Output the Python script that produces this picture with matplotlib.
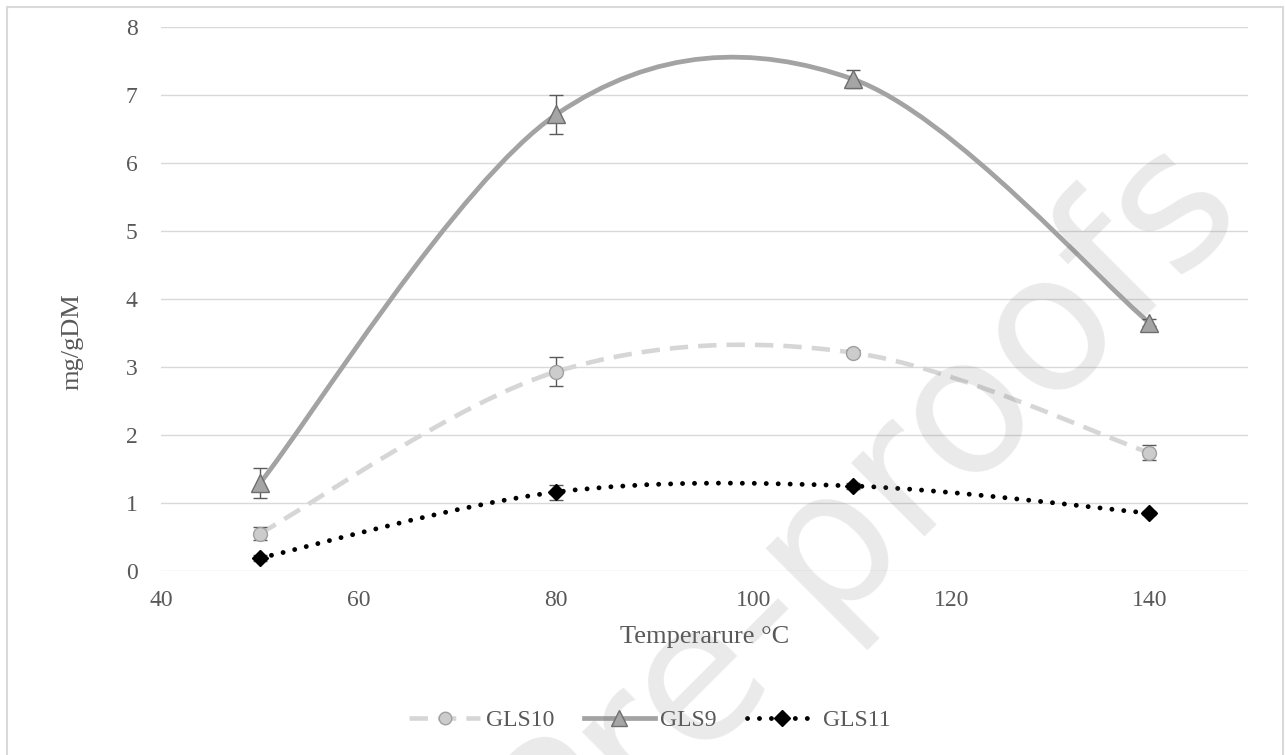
import matplotlib
matplotlib.use("Agg")
import matplotlib.pyplot as plt
from matplotlib.path import Path
from matplotlib.patches import PathPatch, Rectangle
from matplotlib.lines import Line2D
import numpy as np

# ---- data ----
temperature = [50, 80, 110, 140]
gls10 = [0.55, 2.93, 3.21, 1.74]
gls10_err = [0.10, 0.21, 0.04, 0.11]
gls9 = [1.29, 6.71, 7.23, 3.65]
gls9_err = [0.22, 0.28, 0.13, 0.05]
gls11 = [0.19, 1.16, 1.25, 0.85]
gls11_err = [0.04, 0.11, 0.05, 0.03]
series_names = ["GLS10", "GLS9", "GLS11"]
x_ticks = [40, 60, 80, 100, 120, 140]
y_ticks = [0, 1, 2, 3, 4, 5, 6, 7, 8]

plt.rcParams['font.family'] = ['Liberation Serif', 'DejaVu Serif']

W, H = 1285, 755
fig = plt.figure(figsize=(W / 100, H / 100), dpi=100)
ax = fig.add_axes([161 / W, 1 - 571 / H, (1248 - 161) / W, (571 - 26.7) / H])


def smooth_path(xs, ys):
    """Excel-style smoothed line: cubic Bezier segments through the data points."""
    pts = np.column_stack([xs, ys]).astype(float)
    n = len(pts)
    verts = [pts[0]]
    codes = [Path.MOVETO]
    for i in range(n - 1):
        p0 = pts[i - 1] if i > 0 else pts[i]
        p1 = pts[i]
        p2 = pts[i + 1]
        p3 = pts[i + 2] if i + 2 < n else pts[i + 1]
        c1 = p1 + (p2 - p0) / 6.0
        c2 = p2 - (p3 - p1) / 6.0
        verts += [c1, c2, p2]
        codes += [Path.CURVE4] * 3
    return Path(verts, codes)


c10_line = '#d6d6d6'
c9_line = '#a3a3a3'
c11_line = '#000000'
dash10 = (0, (4.0, 2.2))
dot11 = (0, (0.01, 2.45))

# curves
ax.add_patch(PathPatch(smooth_path(temperature, gls10), fill=False, edgecolor=c10_line,
                       lw=3.3, linestyle=dash10, capstyle='butt', zorder=2))
ax.add_patch(PathPatch(smooth_path(temperature, gls9), fill=False, edgecolor=c9_line,
                       lw=3.4, capstyle='round', zorder=2))
ax.add_patch(PathPatch(smooth_path(temperature, gls11), fill=False, edgecolor=c11_line,
                       lw=3.5, linestyle=dot11, capstyle='round', zorder=2))

# error bars
for ys, es in [(gls10, gls10_err), (gls9, gls9_err), (gls11, gls11_err)]:
    ax.errorbar(temperature, ys, yerr=es, fmt='none', ecolor='#5a5a5a',
                elinewidth=1.0, capsize=5, capthick=1.0, zorder=3)

# markers
ax.plot(temperature, gls10, linestyle='none', marker='o', ms=10,
        mfc='#cccccc', mec='#a0a0a0', mew=1.0, zorder=4)
ax.plot(temperature, gls9, linestyle='none', marker='^', ms=13,
        mfc='#a5a5a5', mec='#6e6e6e', mew=1.0, zorder=4)
ax.plot(temperature, gls11, linestyle='none', marker='D', ms=8.5,
        mfc='#000000', mec='#000000', mew=1.0, zorder=4)

ax.set_xlim(40, 150)
ax.set_ylim(0, 8)
ax.set_xticks(x_ticks)
ax.set_yticks(y_ticks)
ax.grid(axis='y', color='#d9d9d9', lw=1.0)
ax.set_axisbelow(True)
for s in ax.spines.values():
    s.set_visible(False)
ax.tick_params(axis='both', length=0, labelsize=17, labelcolor='#595959')
ax.tick_params(axis='x', pad=14)
ax.tick_params(axis='y', pad=17)
ax.set_xlabel('Temperarure °C', fontsize=19, color='#595959')
ax.xaxis.set_label_coords(0.5, 1 - (637 - 26.7) / (571 - 26.7), transform=ax.transAxes)
ax.xaxis.label.set_va('center')
ax.set_ylabel('mg/gDM', fontsize=19, color='#595959')
ax.yaxis.set_label_coords((72 - 161) / (1248 - 161), (571 - 342) / (571 - 26.7))
ax.yaxis.label.set_va('center')

handles = [
    Line2D([], [], color=c10_line, lw=3.3, linestyle=dash10, marker='o', ms=9,
           mfc='#cccccc', mec='#a0a0a0'),
    Line2D([], [], color=c9_line, lw=3.4, marker='^', ms=11, mfc='#a5a5a5', mec='#6e6e6e'),
    Line2D([], [], color=c11_line, lw=3.5, linestyle=dot11, dash_capstyle='round',
           marker='D', ms=8, mfc='#000000', mec='#000000'),
]
leg = fig.legend(handles, series_names, loc='center', bbox_to_anchor=(650 / W, 1 - 720 / H),
                 ncol=3, frameon=False, fontsize=17, handlelength=3.0, columnspacing=1.25,
                 handletextpad=0.25, labelcolor='#595959')

# outer border
fig.add_artist(Rectangle((6.7 / W, -5 / H), (1283 - 6.7) / W, (755 - 6.7 + 5) / H,
                         transform=fig.transFigure, fill=False, edgecolor='#d9d9d9', lw=1.5))

# watermark
fig.text(864 / W, 1 - 505 / H, 'Pre-proofs', rotation=45, rotation_mode='anchor', fontsize=137,
         family='DejaVu Sans', color=(0.45, 0.45, 0.45, 0.15),
         ha='center', va='center', zorder=10)

fig.savefig('out.png', dpi=100)
